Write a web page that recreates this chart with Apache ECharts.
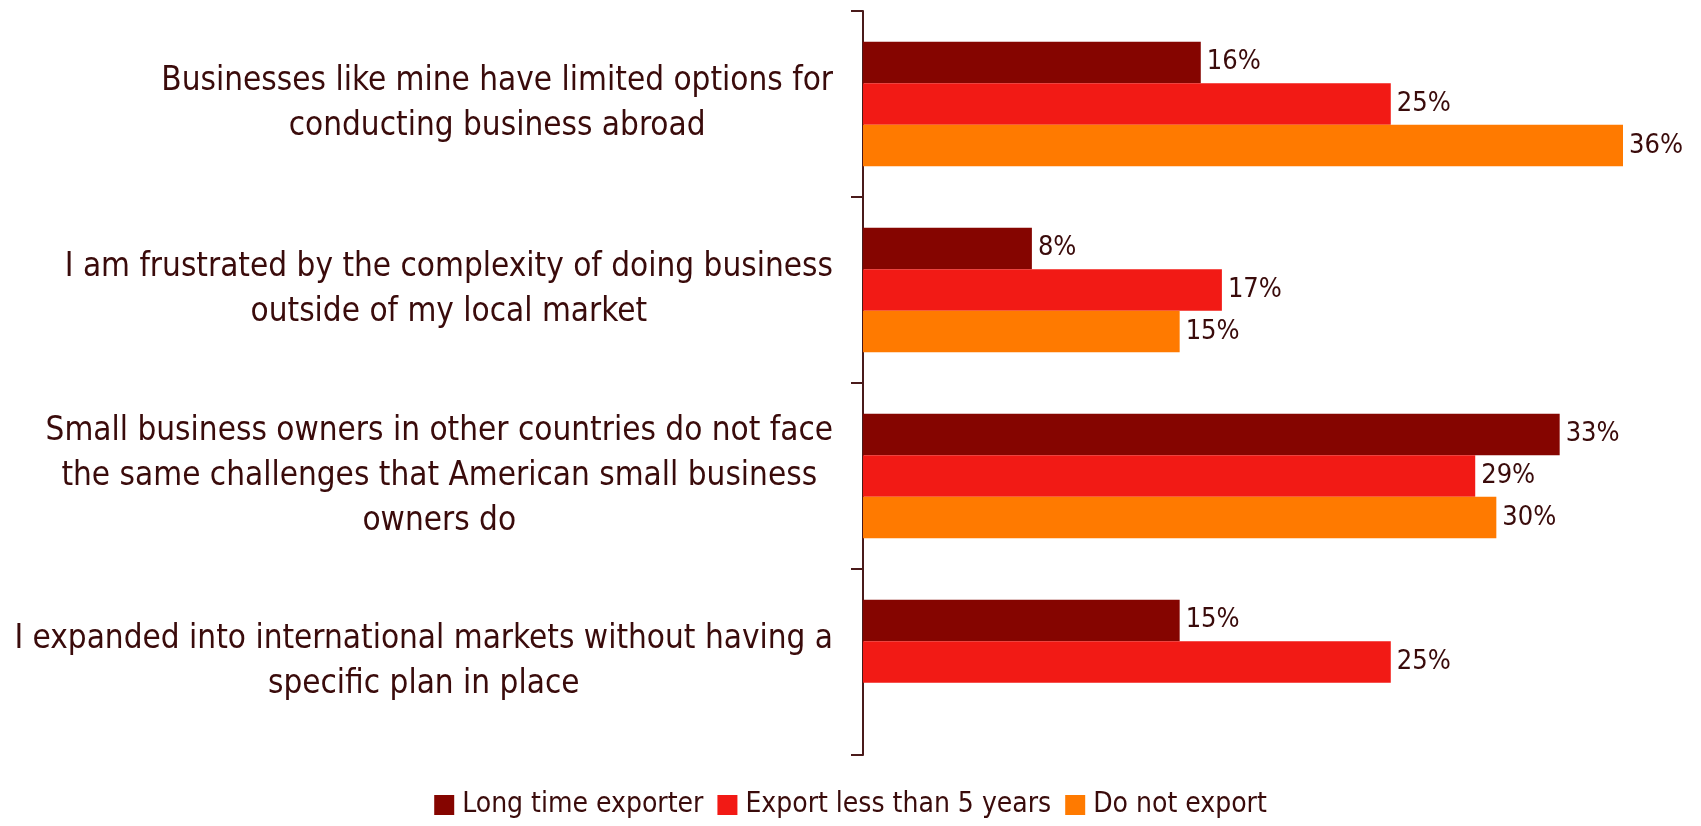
<!DOCTYPE html>
<html>
<head>
<meta charset="utf-8">
<script src="https://cdn.jsdelivr.net/npm/echarts@6/dist/echarts.min.js"></script>
<style>
  html, body { margin: 0; padding: 0; background: #ffffff; }
  #chart { width: 1701px; height: 826px; }
</style>
</head>
<body>
<div id="chart"></div>
<script>
// Survey statements (line breaks as laid out on the axis)
const categories = [
  'Businesses like mine have limited options for\nconducting business abroad',
  'I am frustrated by the complexity of doing business\noutside of my local market',
  'Small business owners in other countries do not face\nthe same challenges that American small business\nowners do',
  'I expanded into international markets without having a\nspecific plan in place'
];

const seriesNames = ['Long time exporter', 'Export less than 5 years', 'Do not export'];

// Percent agreeing, per group ('-' = not asked)
const longTimeExporter = [16, 8, 33, 15];
const exportLessThan5 = [25, 17, 29, 25];
const doNotExport = [36, 15, 30, '-'];

const FONT = '"Liberation Sans Narrow", "Arial Narrow", "DejaVu Sans Condensed", sans-serif';
const TEXT = '#3a0b0b';
const colors = ['#850500', '#f21a15', '#ff7a00'];

const chart = echarts.init(document.getElementById('chart'), null, { renderer: 'canvas' });

function barSeries(name, data, color) {
  return {
    name: name,
    type: 'bar',
    data: data,
    barGap: '0%',
    barCategoryGap: '33%',
    itemStyle: { color: color },
    label: {
      show: true,
      position: 'right',
      distance: 6,
      formatter: p => p.value + '%',
      fontFamily: FONT,
      fontSize: 27,
      color: TEXT
    }
  };
}

chart.setOption({
  animation: false,
  backgroundColor: '#ffffff',
  grid: { left: 863, top: 11, width: 760, bottom: 71, containLabel: false, outerBoundsMode: 'none' },
  legend: {
    bottom: 2,
    left: 'center',
    itemWidth: 20,
    itemHeight: 20,
    itemGap: 14,
    icon: 'rect',
    textStyle: { fontFamily: FONT, fontSize: 28, color: TEXT, padding: [0, 0, 0, 3] },
    data: seriesNames
  },
  xAxis: {
    type: 'value',
    min: 0,
    max: 36,
    show: false
  },
  yAxis: {
    type: 'category',
    inverse: true,
    data: categories,
    axisLine: { show: true, lineStyle: { color: '#4a1a1a', width: 2 } },
    axisTick: { show: true, length: 12, lineStyle: { color: '#4a1a1a', width: 2 } },
    axisLabel: {
      margin: 30,
      align: 'right',
      fontFamily: FONT,
      fontSize: 33,
      lineHeight: 45,
      color: TEXT,
      formatter: v => v.split('\n').map(l => '{c|' + l + '}').join('\n'),
      rich: {
        c: { align: 'center', fontFamily: FONT, fontSize: 33, lineHeight: 45, color: TEXT }
      }
    },
    splitLine: { show: false }
  },
  series: [
    barSeries(seriesNames[0], longTimeExporter, colors[0]),
    barSeries(seriesNames[1], exportLessThan5, colors[1]),
    barSeries(seriesNames[2], doNotExport, colors[2])
  ]
});
</script>
</body>
</html>
